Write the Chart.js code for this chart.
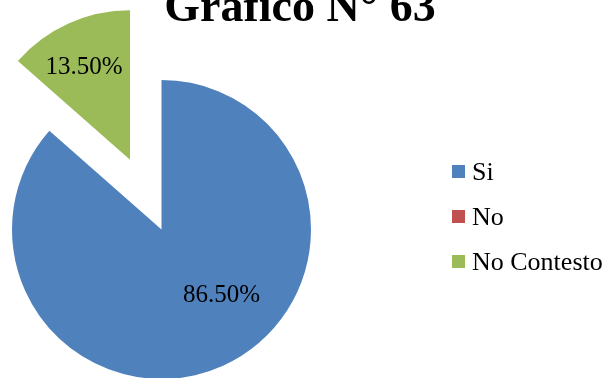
<!DOCTYPE html>
<html lang="es">
<head>
<meta charset="utf-8">
<title>Gráfico N° 63</title>
<script src="https://cdn.jsdelivr.net/npm/chart.js@4/dist/chart.umd.min.js"></script>
<style>
  html, body {
    margin: 0;
    padding: 0;
    background: #ffffff;
    overflow: hidden;
    width: 607px;
    height: 378px;
  }
  .chart-wrap {
    position: absolute;
    left: 0;
    top: 0;
    width: 607px;
    height: 420px;
  }
  .chart-title {
    position: absolute;
    left: 0;
    top: -17px;
    width: 600px;
    text-align: center;
    font: bold 46px "Liberation Serif", "Times New Roman", serif;
    line-height: 1;
    color: #000000;
    white-space: nowrap;
  }
  .chart-legend {
    position: absolute;
    left: 452px;
    top: 149px;
  }
  .legend-item {
    display: flex;
    align-items: center;
    height: 45px;
    font: 26px "Liberation Serif", "Times New Roman", serif;
    color: #000000;
    white-space: nowrap;
  }
  .legend-box {
    width: 13px;
    height: 13px;
    margin-right: 7px;
  }
</style>
</head>
<body>
<div class="chart-wrap">
  <canvas id="surveyPie" width="607" height="420"></canvas>
</div>
<div class="chart-title">Gráfico N° 63</div>
<div class="chart-legend" id="surveyLegend"></div>

<script>
const answers = ["Si", "No", "No Contesto"];
const shares = [86.5, 0, 13.5];
const sliceColors = ["#4F81BD", "#C0504D", "#9BBB59"];

// how far each slice is pulled out from the centre, in px
const explodeBy = [0, 0, 76.5];

// label position per slice: angle shift from the slice middle (rad) and
// distance from the slice tip as a share of the radius
const labelPlacement = [
  { turn: -0.33, dist: 0.587 },
  { turn: 0, dist: 0.7 },
  { turn: -0.031, dist: 0.7 },
];

function midAngle(arc) {
  return (arc.startAngle + arc.endAngle) / 2;
}

// draws the arcs ourselves so a slice can be shifted without shrinking it
const explodedSlices = {
  id: "explodedSlices",
  beforeDatasetDraw(chart, args) {
    const ctx = chart.ctx;
    args.meta.data.forEach((arc, i) => {
      const mid = midAngle(arc);
      const d = explodeBy[i] || 0;
      ctx.save();
      ctx.translate(Math.cos(mid) * d, Math.sin(mid) * d);
      arc.draw(ctx);
      ctx.restore();
    });
    return false;
  },
};

// percentage labels inside the slices
const sliceLabels = {
  id: "sliceLabels",
  afterDatasetsDraw(chart) {
    const ctx = chart.ctx;
    const meta = chart.getDatasetMeta(0);
    const values = chart.data.datasets[0].data;
    const fontSize = 25;

    ctx.save();
    ctx.font = fontSize + "px 'Liberation Serif', 'Times New Roman', serif";
    ctx.fillStyle = "#000000";
    ctx.textAlign = "center";
    ctx.textBaseline = "alphabetic";

    meta.data.forEach((arc, i) => {
      if (!values[i]) return;
      const mid = midAngle(arc);
      const d = explodeBy[i] || 0;
      const tipX = arc.x + Math.cos(mid) * d;
      const tipY = arc.y + Math.sin(mid) * d;
      const place = labelPlacement[i];
      const a = mid + place.turn;
      const r = arc.outerRadius * place.dist;
      const text = values[i].toFixed(2) + "%";
      // centre the digits (cap height ~0.66em) on the label point
      ctx.fillText(
        text,
        tipX + Math.cos(a) * r,
        tipY + Math.sin(a) * r + fontSize * 0.33
      );
    });
    ctx.restore();
  },
};

const ctx = document.getElementById("surveyPie");

const surveyPie = new Chart(ctx, {
  type: "pie",
  data: {
    labels: answers,
    datasets: [
      {
        data: shares,
        backgroundColor: sliceColors,
        borderWidth: 0,
      },
    ],
  },
  options: {
    responsive: false,
    animation: false,
    layout: {
      padding: { left: 12, right: 296, top: 80, bottom: 41 },
    },
    plugins: {
      legend: { display: false },
      title: { display: false },
      tooltip: { enabled: false },
    },
  },
  plugins: [explodedSlices, sliceLabels],
});

// Legend built from the chart data
const legendContainer = document.getElementById("surveyLegend");
surveyPie.data.labels.forEach((label, i) => {
  const item = document.createElement("div");
  item.classList.add("legend-item");

  const box = document.createElement("span");
  box.classList.add("legend-box");
  box.style.background = surveyPie.data.datasets[0].backgroundColor[i];
  item.appendChild(box);

  const text = document.createElement("span");
  text.textContent = label;
  item.appendChild(text);

  legendContainer.appendChild(item);
});
</script>
</body>
</html>
